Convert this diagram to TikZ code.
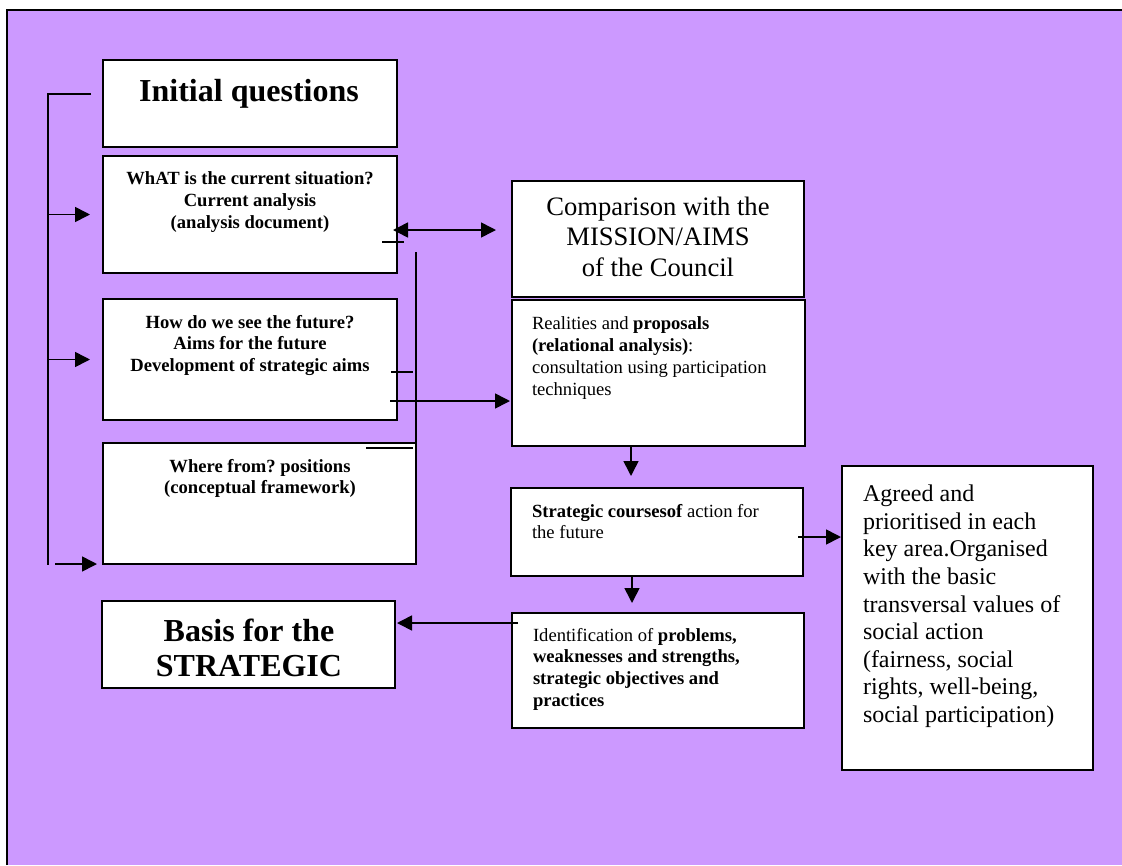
\documentclass[tikz,border=0pt]{standalone}
\usepackage{fontspec}
\setmainfont{Liberation Serif}
\usetikzlibrary{arrows.meta}
\definecolor{bgpurple}{RGB}{204,153,255}
\frenchspacing
\newcommand\boxat[5]{\node[box, anchor=north west, minimum width={#4-#2}, minimum height={#5-#3}] (#1) at (#2,#3) {};}
\begin{document}
\begin{tikzpicture}[x=1pt,y=-1pt,
  box/.style={draw=black, fill=white, line width=1.8pt, inner sep=0pt, outer sep=0pt},
  conn/.style={line width=1.6pt},
  arr/.style={conn, -{Triangle[length=15pt,width=15pt]}},
  darr/.style={conn, {Triangle[length=15pt,width=15pt]}-{Triangle[length=15pt,width=15pt]}},
  txt/.style={inner sep=0pt, outer sep=0pt},
  smallb/.style={txt, font=\fontsize{18.6}{21.7}\selectfont\bfseries},
  small/.style={txt, font=\fontsize{18.6}{21.7}\selectfont},
  bigb/.style={txt, font=\fontsize{32}{35}\selectfont\bfseries},
  cmpfont/.style={txt, font=\fontsize{26.6}{30.5}\selectfont},
  agrfont/.style={txt, font=\fontsize{24}{27.6}\selectfont}
]
\useasboundingbox (0,0) rectangle (1122,865);
% background frame
\fill[bgpurple] (7,10) rectangle (1122,865);
\draw[line width=1.5pt] (7,865) -- (7,10) -- (1122,10);

% boxes
\boxat{iq}{103}{60}{397}{147}
\boxat{what}{103}{156}{397}{273}
\boxat{how}{103}{299}{397}{420}
\boxat{where}{103}{443}{416}{564}
\boxat{basis}{102}{601}{395}{688}
\boxat{cmp}{512}{181}{804}{297}
\boxat{real}{512}{300}{805}{446}
\boxat{strat}{511}{488}{803}{576}
\boxat{ident}{512}{613}{804}{728}
\boxat{agreed}{842}{466}{1093}{770}

% texts
\node[bigb, anchor=north] (tiq) at (249,79) {Initial questions};
\node[smallb, align=center, anchor=north] (twhat) at (250,172)
  {WhAT is the current situation?\\Current analysis\\(analysis document)};
\node[smallb, align=center, anchor=north] (thow) at (250,315)
  {How do we see the future?\\Aims for the future\\Development of strategic aims};
\node[smallb, align=center, anchor=north] (twhere) at (260,459)
  {Where from? positions\\(conceptual framework)};
\node[bigb, align=center, anchor=north] (tbasis) at (249,619)
  {Basis for the\\STRATEGIC};
\node[cmpfont, align=center, anchor=north] (tcmp) at (658,197)
  {Comparison with the\\MISSION/AIMS\\of the Council};
\node[small, align=left, anchor=north west] (treal) at (532,317)
  {Realities and \textbf{proposals}\\\textbf{(relational analysis)}:\\consultation using participation\\techniques};
\node[small, align=left, anchor=north west] (tstrat) at (532,504)
  {\textbf{Strategic coursesof} action for\\the future};
\node[small, align=left, anchor=north west] (tident) at (533,628)
  {Identification of \textbf{problems,}\\\textbf{weaknesses and strengths,}\\\textbf{strategic objectives and}\\\textbf{practices}};
\node[agrfont, align=left, anchor=north west] (tagr) at (863,485)
  {Agreed and\\prioritised in each\\key area.Organised\\with the basic\\transversal values of\\social action\\(fairness, social\\rights, well-being,\\social participation)};

% helper coordinates
\coordinate (bt0) at (91,94);
\coordinate (bt1) at (48,94);
\coordinate (bb) at (48,565);
\coordinate (yd) at (0,230);
\coordinate (yr) at (0,401);
\coordinate (xa) at (631,0);
\coordinate (xb) at (632,0);
\coordinate (ys) at (0,537);
\coordinate (yb) at (0,623);

% left bracket
\draw[conn] (bt0) -- (bt1) -- (bb);
\draw[arr, shorten >=13pt] (bt1 |- what.west) -- (what.west);
\draw[arr, shorten >=13pt] (bt1 |- how.west) -- (how.west);
\draw[arr, shorten <=7pt, shorten >=6pt] (bt1 |- where.south west) -- (where.south west);

% connections in the middle
\draw[darr, shorten <=-4pt, shorten >=16pt] (what.east |- yd) -- (cmp.west |- yd);
\draw[conn] (382,242) -- (404,242);
\draw[conn] (416,252) -- (where.north east);
\draw[conn] (391,372) -- (413,372);
\draw[line width=1.3pt] (366,448) -- (413,448);
\draw[arr, shorten <=-7pt, shorten >=2pt] (how.east |- yr) -- (real.west |- yr);

% right column
\draw[arr, shorten >=12pt] (real.south -| xa) -- (strat.north -| xa);
\draw[arr, shorten >=10pt] (strat.south -| xb) -- (ident.north -| xb);
\draw[arr, shorten <=-5pt, shorten >=1pt] (strat.east |- ys) -- (agreed.west |- ys);
\draw[arr, shorten <=-6pt, shorten >=2pt] (ident.west |- yb) -- (basis.east |- yb);
\end{tikzpicture}
\end{document}
